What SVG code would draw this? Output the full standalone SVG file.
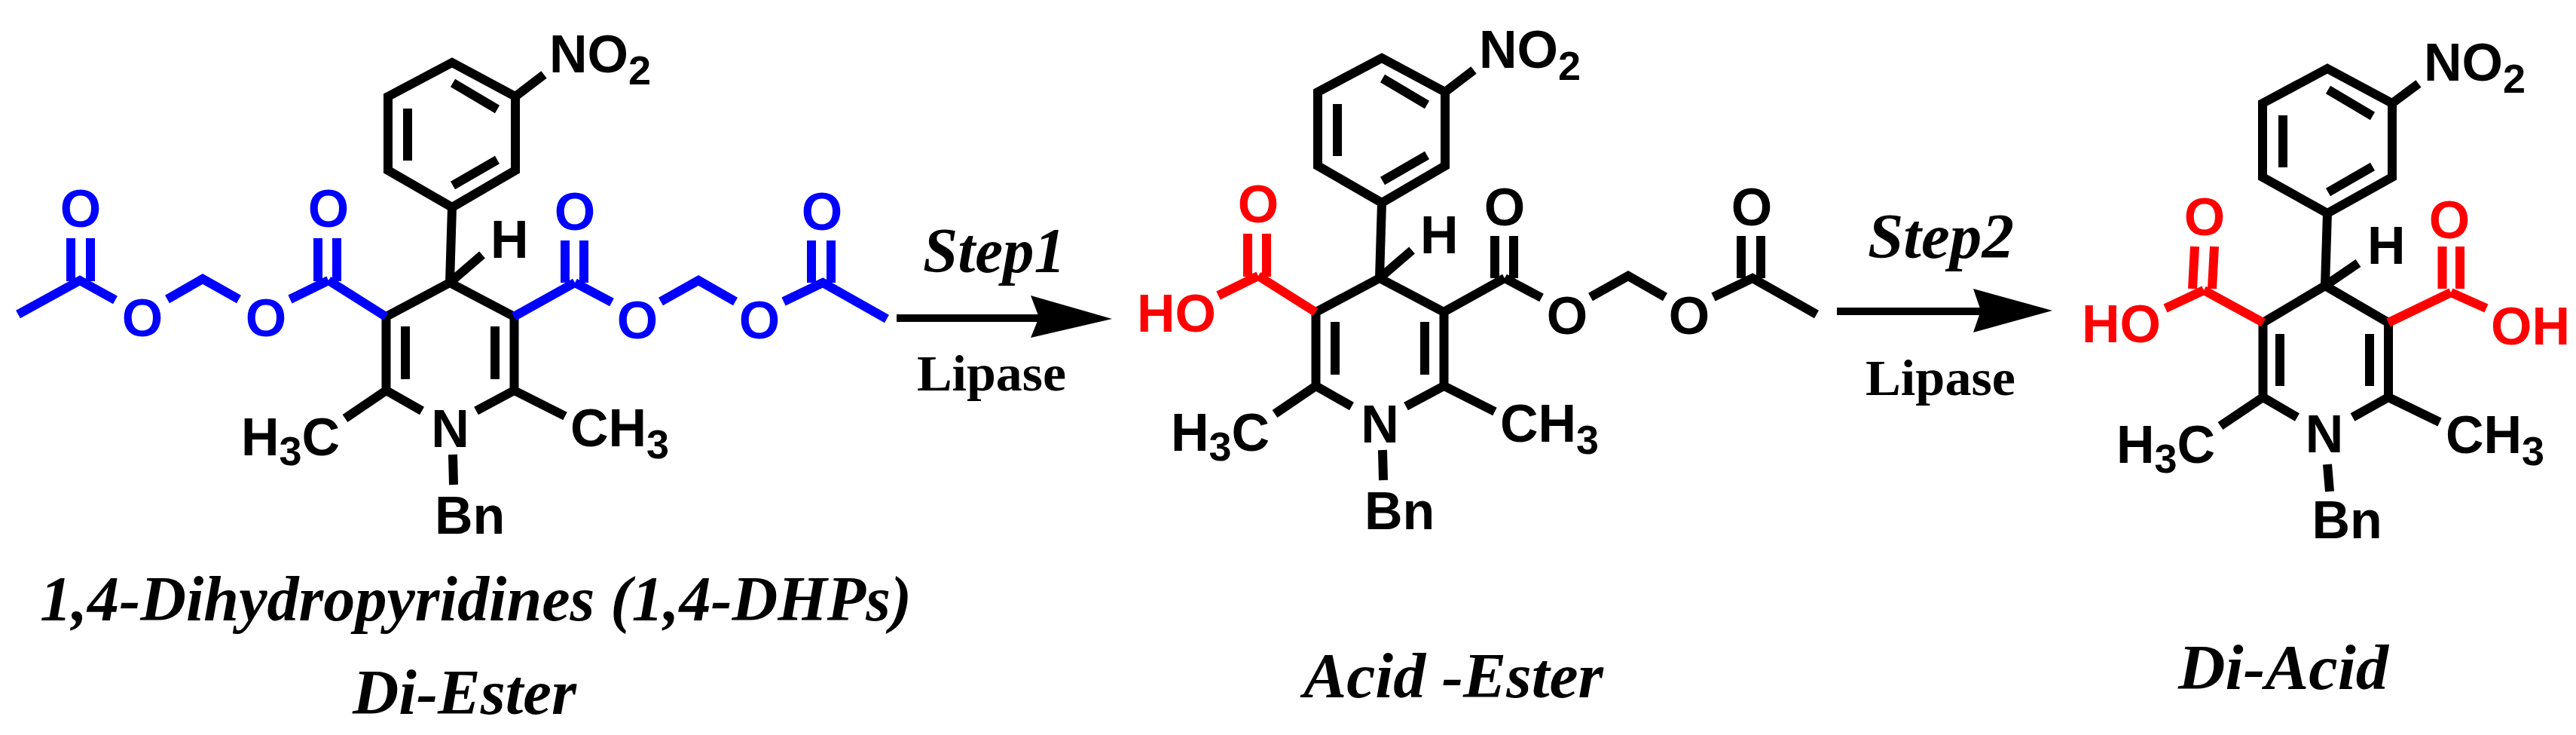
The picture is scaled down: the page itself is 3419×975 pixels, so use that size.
<svg xmlns="http://www.w3.org/2000/svg" width="3419" height="975" viewBox="0 0 3419 975">
<style>
.b{fill:none;stroke:#000;stroke-width:12}
.bl{fill:none;stroke:#0000ff;stroke-width:12}
.r{fill:none;stroke:#ff0000;stroke-width:12}
.a{font-family:"Liberation Sans",Arial,sans-serif;font-weight:bold;font-size:70px;fill:#000}
.ab{fill:#0000ff}
.ar{fill:#ff0000}
.s{font-size:54px}
.m{text-anchor:middle}
.t{font-family:"Liberation Serif","Times New Roman",serif;font-weight:bold;font-style:italic;font-size:85px;fill:#000}
.l{font-family:"Liberation Serif","Times New Roman",serif;font-weight:bold;font-size:68px;fill:#000}
.ln{fill:none;stroke:#000;stroke-width:10}
</style>
<rect width="3419" height="975" fill="#fff"/>
<g id="di-ester">
<path class="b" d="M600 83L684 128V226L600 275L515 226V128ZM684 128L722 99M601 110L660 145M660 212L601 246M541 144V213M600 275L597 375M597 375L640 338M512.500 420L597 375L682.500 420M512.500 420V518L560 545M682.500 420V518L632 545M512.500 518L458 555M682.500 518L750 552M538 433V503M657 433V503M601 603L602 643"/>
<path class="bl" d="M512 420L436 372M422 316V373M447 316V373M436 372L385 397M317 397L269 370L222 397M153 398L106 372L24 417M94 316V373M120 316V373M682 420L763 375M750 319V375M775 319V375M763 375L812 401M877 400L927 372L976 400M1040 400L1092 375L1177 423M1077 319V375M1103 319V375"/>
<text class="a" x="729" y="96">NO<tspan class="s" dy="16">2</tspan></text>
<text class="a" x="651" y="342">H</text>
<text class="a" x="320" y="604">H<tspan class="s" dy="13">3</tspan><tspan dy="-13">C</tspan></text>
<text class="a m" x="597.500" y="592.500">N</text>
<text class="a" x="757" y="592">CH<tspan class="s" dy="16">3</tspan></text>
<text class="a" x="577" y="708">Bn</text>
<text class="a ab m" x="107" y="301">O</text>
<text class="a ab m" x="436" y="301">O</text>
<text class="a ab m" x="189" y="446">O</text>
<text class="a ab m" x="353" y="446">O</text>
<text class="a ab m" x="763" y="305">O</text>
<text class="a ab m" x="1091" y="305">O</text>
<text class="a ab m" x="846" y="449">O</text>
<text class="a ab m" x="1008" y="449">O</text>
<text class="t" x="53" y="823" textLength="1157" lengthAdjust="spacingAndGlyphs">1,4-Dihydropyridines (1,4-DHPs)</text>
<text class="t" x="468" y="947" textLength="297" lengthAdjust="spacingAndGlyphs">Di-Ester</text>
</g>
<g id="step1">
<path class="ln" d="M1190 422H1385"/>
<path d="M1476 423L1368 392L1379 421L1368 448Z" fill="#000"/>
<text class="t" x="1225" y="361" textLength="189" lengthAdjust="spacingAndGlyphs">Step1</text>
<text class="l" x="1217" y="518" textLength="198" lengthAdjust="spacingAndGlyphs">Lipase</text>
</g>
<g id="acid-ester" transform="translate(1234,-6)">
<path class="b" d="M600 83L684 128V226L600 275L515 226V128ZM684 128L722 99M601 110L660 145M660 212L601 246M541 144V213M600 275L597 375M597 375L640 338M512.500 420L597 375L682.500 420M512.500 420V518L560 545M682.500 420V518L632 545M512.500 518L458 555M682.500 518L750 552M538 433V503M657 433V503M601 603L602 643M682 420L763 375M750 319V375M775 319V375M763 375L812 401M877 400L927 372L976 400M1040 400L1092 375L1177 423M1077 319V375M1103 319V375"/>
<path class="r" d="M512 420L436 372M422 316V373M447 316V373M436 372L383 398"/>
<text class="a" x="729" y="96">NO<tspan class="s" dy="16">2</tspan></text>
<text class="a" x="651" y="342">H</text>
<text class="a" x="320" y="604">H<tspan class="s" dy="13">3</tspan><tspan dy="-13">C</tspan></text>
<text class="a m" x="597.500" y="592.500">N</text>
<text class="a" x="757" y="592">CH<tspan class="s" dy="16">3</tspan></text>
<text class="a" x="577" y="708">Bn</text>
<text class="a ar m" x="436" y="301">O</text>
<text class="a ar" x="275" y="446">HO</text>
<text class="a m" x="763" y="305">O</text>
<text class="a m" x="1091" y="305">O</text>
<text class="a m" x="846" y="449">O</text>
<text class="a m" x="1008" y="449">O</text>
</g>
<text id="acid-ester-label" class="t" x="1730" y="925" textLength="398" lengthAdjust="spacingAndGlyphs">Acid -Ester</text>
<g id="step2">
<path class="ln" d="M2438 413H2635"/>
<path d="M2724 412L2619 383L2629 412L2619 441Z" fill="#000"/>
<text class="t" x="2479" y="342" textLength="194" lengthAdjust="spacingAndGlyphs">Step2</text>
<text class="l" x="2476" y="524" textLength="199" lengthAdjust="spacingAndGlyphs">Lipase</text>
</g>
<g id="di-acid" transform="translate(2489,9)">
<path class="b" d="M600 82L686 128V226L600 274L514 226V128ZM686 128L721 102M601 110L660 145M660 212L601 246M541 144V213M600 274L597 370M597 370L641 340M514.500 419L597 370L681 419M514.500 419V518L560 544.500M681 419V518L633.500 544.500M514.500 518L458 556M681 518L749 551M537 434V503M656 434V503M600 607L603 643"/>
<path class="r" d="M515 419L436 376M424 318L421 374M450 318L447 374M436 376L385 400M681 419L764 379M752.500 318V374M776 318V374M764 379L811 400"/>
<text class="a" x="728" y="98">NO<tspan class="s" dy="16">2</tspan></text>
<text class="a" x="653" y="341">H</text>
<text class="a" x="320" y="605">H<tspan class="s" dy="13">3</tspan><tspan dy="-13">C</tspan></text>
<text class="a m" x="596" y="591">N</text>
<text class="a" x="757" y="592">CH<tspan class="s" dy="16">3</tspan></text>
<text class="a" x="579.500" y="705">Bn</text>
<text class="a ar m" x="437" y="303">O</text>
<text class="a ar" x="274" y="445">HO</text>
<text class="a ar m" x="762" y="307">O</text>
<text class="a ar" x="817" y="448">OH</text>
</g>
<text id="di-acid-label" class="t" x="2891" y="914" textLength="279" lengthAdjust="spacingAndGlyphs">Di-Acid</text>
</svg>
